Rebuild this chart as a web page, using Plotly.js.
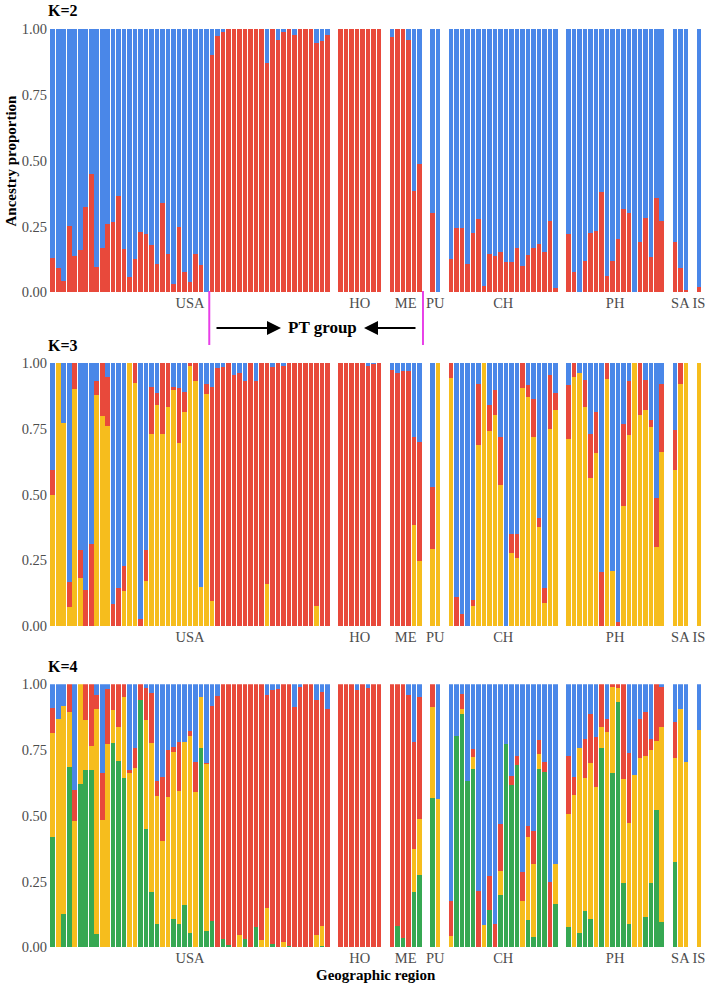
<!DOCTYPE html>
<html>
<head>
<meta charset="utf-8">
<script src="https://cdn.plot.ly/plotly-3.0.1.min.js"></script>
<style>html,body{margin:0;padding:0;background:#fff;}#chart{width:709px;height:992px;}</style>
</head>
<body>
<div id="chart"></div>
<script>
// ---------------- DATA ----------------
const groups = ['USA', 'HO', 'ME', 'PU', 'CH', 'PH', 'SA', 'IS'];
const groupSizes = [51, 8, 6, 2, 20, 18, 3, 1];
const panelLabels = ['K=2', 'K=3', 'K=4'];
const yTickVals = [0, 0.25, 0.5, 0.75, 1];
const yTickText = ['0.00', '0.25', '0.50', '0.75', '1.00'];

// K=2: red ancestry proportion per individual (blue = remainder)
const k2Red = [
  // USA
  0.13,0.094,0.044,0.25,0.137,0.16,0.325,0.45,0.097,0.167,
  0.258,0.268,0.365,0.163,0.06,0.125,0.228,0.22,0.18,0.106,
  0.34,0.145,0.03,0.248,0.078,0.038,0.144,0.105,0,0.9,
  0.975,0.987,1,1,1,1,1,1,1,0.87,
  1,0.957,0.99,1,0.977,1,1,1,0.946,0.953,
  0.976,
  // HO
  1,1,1,1,1,1,1,1,
  // ME
  0.97,1,1,0.96,0.385,0.487,
  // PU
  0.30,0,
  // CH
  0.128,0.246,0.246,0.106,0.227,0.277,0.025,0.146,0.139,0.154,
  0.114,0.116,0.168,0.1,0.142,0.168,0.185,0.154,0.27,0.016,
  // PH
  0.22,0.078,0,0.12,0.224,0.232,0.382,0.062,0.12,0.204,
  0.318,0.3,0,0.19,0.284,0.133,0.357,0.27,
  // SA
  0.192,0.094,0.01,
  // IS
  0.02
];

// K=3: cumulative tops of stacked layers (yellow bottom, then red; blue = remainder)
const k3YellowTop = [
  // USA
  0.497,1,0.77,0.071,0.9,0.184,0,0,0.877,0.797,
  0.76,0,0,0.133,1,0.924,0,0.171,0.73,0.84,
  0.73,0.833,0.896,0.696,0.814,0.99,0.93,0.15,0.884,0.095,
  0,0,0,0,0,0,0,0,0,0.16,
  0,0,0,0,0,0,0,0,0.075,0,
  0,
  // HO
  0,0,0,0,0,0,0,0,
  // ME
  0,0,0,0,0.384,0.249,
  // PU
  0.291,1,
  // CH
  0.943,0,0,0,0.076,0.687,1,0.74,0.804,0.535,
  0,0.276,0.26,0.905,0.87,0.718,0.376,0.086,0.75,0.823,
  // PH
  0.711,0.946,0.962,0.833,0.561,0.658,0,0.94,0.211,0,
  0.458,0.725,1,0.801,0.823,0.757,0.3,0.662,
  // SA
  0.592,0.92,1,
  // IS
  1
];
const k3RedTop = [
  // USA
  0.595,1,0.77,0.166,1,0.289,0.137,0.313,0.93,1,
  0.945,0.082,0.143,0.228,1,1,0.025,0.29,0.908,0.886,
  1,1,0.909,0.905,0.89,1,1,0.15,0.92,0.91,
  0.98,0.985,1,0.955,0.962,0.93,1,0.93,1,1,
  0.983,1,0.99,1,1,1,1,1,1,1,
  1,
  // HO
  1,1,1,1,1,0.99,0.995,1,
  // ME
  0.972,0.962,0.968,0.968,0.718,0.699,
  // PU
  0.528,1,
  // CH
  1,0.111,0.046,0,0.099,0.92,1,0.84,0.899,0.718,
  0,0.35,0.35,1,0.918,0.863,0.411,0.143,0.956,0.886,
  // PH
  0.915,1,0.962,0.937,0.73,0.814,0.205,1,0.211,0.016,
  0.768,0.93,1,1,0.937,0.785,0.487,0.922,
  // SA
  0.747,1,1,
  // IS
  1
];

// K=4: cumulative tops (green bottom, yellow, red; blue = remainder)
const k4GreenTop = [
  // USA
  0.418,0,0.128,0.687,0,0.621,0.674,0.674,0.052,0,
  0,0.778,0.71,0.643,0,0,0.94,0.45,0.21,0.087,
  0,0,0.109,0.087,0.16,0.056,0,0.757,0.061,0.1,
  0,0.033,0.01,0,0,0.033,0,0.076,0,0,
  0.014,0,0,0.005,0,0,0,0,0,0.005,
  0,
  // HO
  0,0,0,0,0,0,0,0,
  // ME
  0,0.082,0.034,0,0.212,0.275,
  // PU
  0.567,0,
  // CH
  0,0.804,0.887,0.634,0.677,0,0,0.142,0,0.2,
  0.772,0.617,0.693,0,0.104,0.04,0.677,0.668,0,0.165,
  // PH
  0.076,0,0.056,0.139,0.106,0,0.759,0,0.664,0.934,
  0.243,0.089,0,0,0.114,0.243,0.522,0.098,
  // SA
  0.326,0,0,
  // IS
  0
];
const k4YellowTop = [
  // USA
  0.814,0.867,0.919,0.896,0.48,1,0.864,0.765,0.905,0.484,
  0.772,0.902,0.836,0.953,0.661,0.683,0.94,0.864,0.776,0.577,
  0.406,0.57,0.744,0.596,0.779,0.805,0.589,0.951,0.696,0.1,
  0,0.033,0.01,0,0.048,0.033,0,0.076,0.027,0.15,
  0.014,0,0.02,0.005,0,0,0,0,0.046,0.08,
  0,
  // HO
  0,0,0,0,0,0,0,0,
  // ME
  0,0.082,0.034,0,0.373,0.487,
  // PU
  0.915,0.563,
  // CH
  0.043,0.804,0.905,0.634,0.725,0,0.085,0.142,0,0.29,
  0.772,0.617,0.693,0.177,0.42,0.316,0.735,0.668,0,0.317,
  // PH
  0.507,0.579,0.757,0.645,0.7,0.611,0.836,0.82,0.991,0.987,
  0.639,0.471,0.655,0.719,0.727,0.75,0.785,0.836,
  // SA
  0.719,0.906,0.706,
  // IS
  0.826
];
const k4RedTop = [
  // USA
  0.909,0.867,0.919,1,0.598,1,1,1,0.959,0.662,
  0.981,1,1,1,0.674,0.757,1,0.985,0.966,0.634,
  0.646,0.75,0.763,0.779,0.779,0.824,0.706,0.951,0.702,0.919,
  0.956,1,1,1,1,1,1,1,1,0.96,
  0.978,0.981,1,1,0.915,0.99,1,1,0.94,0.972,
  0.905,
  // HO
  1,1,1,0.98,1,0.987,1,1,
  // ME
  1,1,1,0.959,0.782,0.951,
  // PU
  1,0.563,
  // CH
  0.177,0.804,0.962,0.634,0.753,0.215,0.085,0.271,0.087,0.468,
  0.772,0.651,0.728,0.285,0.463,0.444,0.788,0.706,0.247,0.317,
  // PH
  0.728,0.649,0.757,0.792,0.887,0.801,1,0.868,1,1,
  1,0.74,0.655,0.868,0.894,0.791,1,0.991,
  // SA
  0.855,0.906,0.706,
  // IS
  0.826
];

// ---------------- STYLE ----------------
const COL = {blue: '#4A87E8', red: '#E8493B', yellow: '#F6BD1D', green: '#36A852'};
const SERIF = 'Liberation Serif, Times New Roman, serif';
const W = 709, H = 992;
const GAP = 1.38; // gap between regions, in bar units

// x positions of individuals, region label centres
const xs = [], centers = [], groupStart = [];
let s = 0;
groupSizes.forEach((n) => {
  groupStart.push(s);
  for (let i = 0; i < n; i++) xs.push(s + i + 0.5);
  centers.push(s + n / 2);
  s += n + GAP;
});
const xTotal = s - GAP;

// turn cumulative tops into layer proportions (bottom -> top), blue is the remainder
function layers(tops) {
  const out = [];
  let prev = xs.map(() => 0);
  tops.forEach(t => { out.push(t.map((v, i) => Math.max(0, v - prev[i]))); prev = t; });
  out.push(prev.map(v => Math.max(0, 1 - v)));
  return out;
}

const panels = [
  {layers: layers([k2Red]), colors: [COL.red, COL.blue]},
  {layers: layers([k3YellowTop, k3RedTop]), colors: [COL.yellow, COL.red, COL.blue]},
  {layers: layers([k4GreenTop, k4YellowTop, k4RedTop]), colors: [COL.green, COL.yellow, COL.red, COL.blue]}
];

// panel pixel positions (top of 1.00, bottom of 0.00) and K label centre
const panelPx = [[29, 292.3], [363, 626], [684.3, 947.3]];
const kLabelY = [10, 345, 666];
const xDomain = [50 / W, 701.7 / W];

const data = [];
const layout = {
  width: W, height: H,
  margin: {l: 0, r: 0, t: 0, b: 0},
  paper_bgcolor: '#fff', plot_bgcolor: '#fff',
  barmode: 'stack', bargap: 0.15,
  showlegend: false,
  font: {family: SERIF, color: '#000'},
  annotations: [], shapes: []
};

panels.forEach((p, k) => {
  const xa = k === 0 ? 'x' : 'x' + (k + 1);
  const ya = k === 0 ? 'y' : 'y' + (k + 1);
  p.layers.forEach((vals, j) => {
    data.push({
      type: 'bar', x: xs, y: vals, xaxis: xa, yaxis: ya,
      marker: {color: p.colors[j], line: {width: 0}},
      hoverinfo: 'skip', showlegend: false
    });
  });
  const [top, bot] = panelPx[k];
  layout[k === 0 ? 'xaxis' : 'xaxis' + (k + 1)] = {
    domain: xDomain, range: [0, xTotal], anchor: ya,
    tickvals: centers, ticktext: groups, tickangle: 0,
    showgrid: false, zeroline: false, showline: false, ticks: '',
    tickfont: {family: SERIF, size: 14.5, color: '#4d4d4d'},
    automargin: false, fixedrange: true
  };
  layout[k === 0 ? 'yaxis' : 'yaxis' + (k + 1)] = {
    domain: [1 - bot / H, 1 - top / H], range: [0, 1], anchor: xa,
    tickvals: yTickVals, ticktext: yTickText,
    showgrid: false, zeroline: false, showline: false, ticks: '',
    ticklabelstandoff: 2,
    tickfont: {family: SERIF, size: 14.5, color: '#4d4d4d'},
    automargin: false, fixedrange: true
  };
  layout.annotations.push({
    xref: 'paper', yref: 'paper', x: 46 / W, y: 1 - kLabelY[k] / H,
    xanchor: 'left', yanchor: 'middle', showarrow: false,
    text: '<b>' + panelLabels[k] + '</b>', font: {family: SERIF, size: 16, color: '#000'}
  });
});

// axis titles
layout.annotations.push({
  xref: 'paper', yref: 'paper', x: 10 / W, y: 1 - 160.5 / H, textangle: -90,
  xanchor: 'center', yanchor: 'middle', showarrow: false,
  text: '<b>Ancestry proportion</b>', font: {family: SERIF, size: 15, color: '#000'}
});
layout.annotations.push({
  xref: 'paper', yref: 'paper', x: 376 / W, y: 1 - 975 / H,
  xanchor: 'center', yanchor: 'middle', showarrow: false,
  text: '<b>Geographic region</b>', font: {family: SERIF, size: 15, color: '#000'}
});

// PT group marker: boundaries between USA ind. 29/30 and after ME
const ptStart = groupStart[0] + 29;
const ptEnd = groupStart[2] + groupSizes[2] + 0.15;
[ptStart, ptEnd].forEach(xv => {
  layout.shapes.push({
    type: 'line', xref: 'x', yref: 'paper', x0: xv, x1: xv,
    y0: 1 - 291 / H, y1: 1 - 345 / H,
    line: {color: '#E83FE8', width: 2}
  });
});
const arrowY = 1 - 328 / H;
layout.annotations.push({
  xref: 'paper', yref: 'paper', x: 322 / W, y: arrowY,
  xanchor: 'center', yanchor: 'middle', showarrow: false,
  text: '<b>PT group</b>', font: {family: SERIF, size: 17, color: '#000'}
});
layout.annotations.push({
  xref: 'paper', yref: 'paper', x: 281 / W, y: arrowY, text: '',
  showarrow: true, ax: -66, ay: 0, arrowhead: 2, arrowsize: 1.4, arrowwidth: 2, arrowcolor: '#000'
});
layout.annotations.push({
  xref: 'paper', yref: 'paper', x: 364 / W, y: arrowY, text: '',
  showarrow: true, ax: 53, ay: 0, arrowhead: 2, arrowsize: 1.4, arrowwidth: 2, arrowcolor: '#000'
});

Plotly.newPlot('chart', data, layout, {staticPlot: true, displayModeBar: false});
</script>
</body>
</html>
